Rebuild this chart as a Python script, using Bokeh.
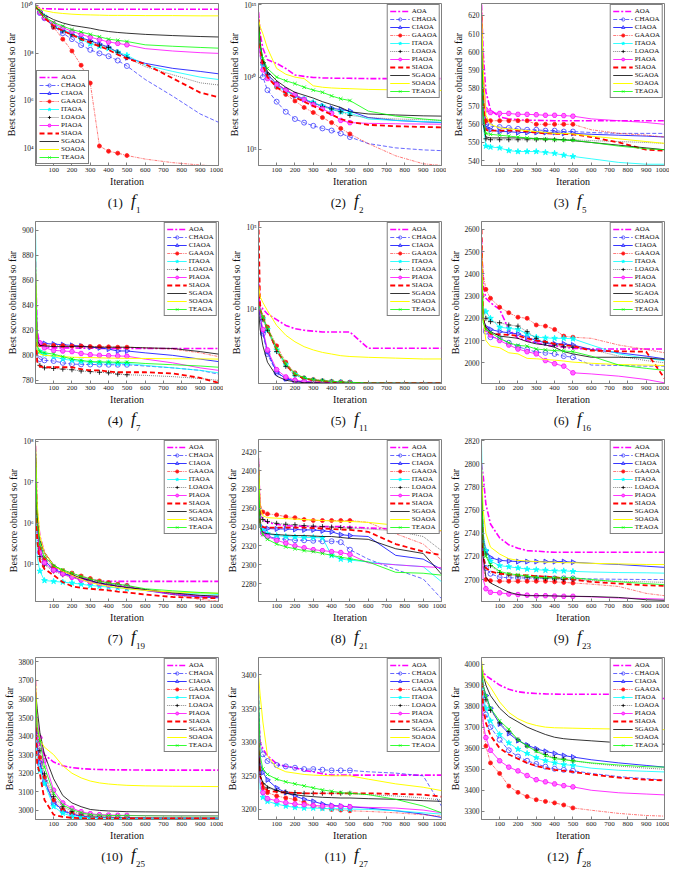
import numpy as np
from bokeh.plotting import figure
from bokeh.layouts import gridplot
from bokeh.models import Range1d, FixedTicker, Legend, LegendItem, Label
from bokeh.embed import file_html
from bokeh.resources import INLINE

ITER = [1, 10, 25, 50, 100, 150, 200, 250, 300, 350, 400, 450, 500, 600, 750, 900, 1000]
ALGOS = ["AOA", "CHAOA", "CIAOA", "GAAOA", "ITAOA", "LOAOA", "PIAOA", "SIAOA", "SGAOA", "SOAOA", "TEAOA"]
X_TICKS = [100, 200, 300, 400, 500, 600, 700, 800, 900, 1000]

# ---- f1 (log10 of best score) ----
F1_LOG10 = {
    "AOA":   [10.05, 9.95, 9.9, 9.88, 9.87, 9.86, 9.86, 9.86, 9.86, 9.86, 9.86, 9.86, 9.86, 9.86, 9.86, 9.86, 9.86],
    "CHAOA": [10.0, 9.85, 9.7, 9.48, 9.14, 8.85, 8.6, 8.35, 8.15, 8.0, 7.88, 7.7, 7.47, 6.9, 6.2, 5.45, 5.1],
    "CIAOA": [10.0, 9.88, 9.75, 9.52, 9.12, 8.95, 8.8, 8.66, 8.53, 8.4, 8.26, 8.05, 7.82, 7.58, 7.37, 7.24, 7.14],
    "GAAOA": [10.0, 9.9, 9.75, 9.5, 9.1, 8.6, 8.1, 7.5, 6.75, 4.1, 3.88, 3.8, 3.7, 3.55, 3.4, 3.3, 3.25],
    "ITAOA": [10.0, 9.88, 9.75, 9.55, 9.2, 9.0, 8.85, 8.6, 8.4, 8.3, 8.2, 8.05, 7.92, 7.51, 7.24, 7.0, 6.9],
    "LOAOA": [10.0, 9.88, 9.75, 9.52, 9.15, 8.95, 8.78, 8.62, 8.5, 8.35, 8.25, 8.05, 7.82, 7.44, 7.1, 6.76, 6.67],
    "PIAOA": [10.0, 9.88, 9.72, 9.5, 9.25, 9.08, 8.93, 8.8, 8.68, 8.58, 8.48, 8.42, 8.36, 8.2, 8.1, 8.03, 8.0],
    "SIAOA": [10.0, 9.88, 9.75, 9.5, 9.15, 8.95, 8.78, 8.6, 8.45, 8.3, 8.15, 7.95, 7.78, 7.55, 6.95, 6.35, 6.15],
    "SGAOA": [10.0, 9.9, 9.78, 9.62, 9.42, 9.28, 9.18, 9.12, 9.06, 8.98, 8.92, 8.88, 8.85, 8.8, 8.75, 8.71, 8.69],
    "SOAOA": [10.05, 9.95, 9.88, 9.8, 9.72, 9.68, 9.65, 9.63, 9.62, 9.61, 9.6, 9.6, 9.6, 9.59, 9.59, 9.58, 9.58],
    "TEAOA": [10.0, 9.9, 9.75, 9.55, 9.3, 9.15, 9.0, 8.9, 8.8, 8.7, 8.6, 8.55, 8.5, 8.36, 8.3, 8.25, 8.22],
}
# ---- f2 (log10) ----
F2_LOG10 = {
    "AOA":   [14.5, 13.0, 12.0, 11.2, 10.95, 10.6, 10.15, 10.05, 9.98, 9.95, 9.93, 9.92, 9.92, 9.9, 9.9, 9.9, 9.9],
    "CHAOA": [14.0, 11.5, 10.0, 9.1, 8.3, 7.6, 7.1, 6.85, 6.63, 6.45, 6.3, 6.1, 5.85, 5.4, 5.1, 4.96, 4.91],
    "CIAOA": [14.0, 12.3, 11.0, 10.2, 9.5, 9.1, 8.7, 8.45, 8.2, 8.0, 7.85, 7.75, 7.65, 7.2, 7.0, 6.9, 6.85],
    "GAAOA": [14.5, 12.5, 11.0, 10.0, 9.3, 8.8, 8.35, 7.9, 7.55, 7.2, 6.85, 6.45, 6.07, 5.4, 4.55, 4.0, 3.88],
    "ITAOA": [14.0, 12.0, 10.8, 10.0, 9.4, 9.0, 8.75, 8.5, 8.25, 8.0, 7.75, 7.6, 7.5, 7.1, 7.0, 6.92, 6.88],
    "LOAOA": [14.0, 12.2, 11.0, 10.2, 9.6, 9.1, 8.75, 8.45, 8.2, 7.95, 7.8, 7.6, 7.35, 7.2, 7.1, 7.05, 7.0],
    "PIAOA": [13.5, 11.5, 10.5, 9.9, 9.5, 9.1, 8.8, 8.45, 8.1, 7.8, 7.5, 7.0, 6.85, 6.8, 6.77, 6.75, 6.74],
    "SIAOA": [14.0, 12.0, 10.8, 10.0, 9.3, 8.9, 8.6, 8.3, 8.0, 7.7, 7.4, 7.1, 6.9, 6.7, 6.6, 6.55, 6.52],
    "SGAOA": [14.0, 12.3, 11.2, 10.4, 9.75, 9.3, 8.95, 8.75, 8.55, 8.3, 8.1, 7.9, 7.6, 7.45, 7.38, 7.32, 7.3],
    "SOAOA": [14.0, 13.5, 13.0, 12.0, 10.6, 10.2, 10.0, 9.9, 9.4, 9.3, 9.25, 9.22, 9.2, 9.15, 9.12, 9.1, 9.08],
    "TEAOA": [13.8, 12.2, 11.3, 10.6, 10.0, 9.75, 9.55, 9.3, 9.1, 8.95, 8.7, 8.5, 8.38, 7.65, 7.3, 7.1, 7.0],
}
# ---- f5 ----
F5 = {
    "AOA":   [626, 600, 578, 568, 564, 563, 562.5, 562.3, 562.2, 562.1, 562, 562, 562, 562, 562, 562, 562],
    "CHAOA": [620, 575, 560, 559, 558.5, 558, 557.5, 557, 557, 556.5, 556.5, 556, 556, 555.5, 555, 555, 555],
    "CIAOA": [620, 575, 558, 557, 556, 556, 555.5, 555.5, 555.5, 555.5, 555.5, 555, 555, 554.5, 554, 553.5, 553],
    "GAAOA": [620, 580, 562, 562, 562, 562, 562, 562, 560, 560, 560, 560, 560, 557, 555, 554, 553],
    "ITAOA": [615, 560, 548, 547.5, 547, 545.5, 545, 545, 545, 544.5, 544, 543, 542.3, 541, 539, 538, 538],
    "LOAOA": [620, 570, 552, 551.5, 551.5, 551.5, 551.5, 551.5, 551.5, 551.5, 551.5, 551.5, 551.5, 551, 550.5, 550, 549.5],
    "PIAOA": [626, 590, 568, 566.5, 566, 566, 565.5, 565.5, 565.3, 565, 565, 564.8, 564.5, 563, 562, 561, 560],
    "SIAOA": [620, 575, 557, 556.5, 556.5, 556.5, 556.5, 556, 555.5, 555, 554.8, 554.7, 554.5, 553, 550, 546, 545.5],
    "SGAOA": [610, 560, 553, 552.5, 552.5, 552.5, 552.5, 552.3, 552.2, 552, 551.8, 551.5, 551, 550, 548.5, 547, 546],
    "SOAOA": [625, 590, 565, 560, 558, 557.5, 557, 556.5, 556, 555.5, 555, 555, 554.7, 553.5, 552, 550.5, 549.5],
    "TEAOA": [610, 565, 555, 554.5, 554, 553.5, 553, 552.5, 552, 551.8, 551.5, 551.3, 551.2, 550, 548, 546.5, 546],
}
# ---- f7 ----
F7 = {
    "AOA":   [875, 820, 808, 806.5, 806, 806, 806, 805.8, 805.7, 805.6, 805.5, 805.5, 805.5, 805.5, 805.5, 805.5, 805.5],
    "CHAOA": [850, 800, 797, 796, 795.5, 794, 793, 792.8, 792.7, 792.6, 792.5, 792.5, 792.5, 791.5, 790, 788, 785],
    "CIAOA": [860, 815, 810, 809.5, 809, 808.5, 808, 807.5, 806.5, 806, 805, 803.5, 803.5, 802, 800, 797, 795],
    "GAAOA": [860, 815, 808.5, 808, 808, 807.8, 807.5, 807.5, 807, 807, 806.8, 806.5, 806.5, 806, 805, 802, 799],
    "ITAOA": [905, 806, 803, 801, 799, 797, 796, 795, 794.5, 794, 794, 793.5, 793.5, 792, 790, 788, 786],
    "LOAOA": [820, 795, 792, 790, 789.5, 789, 788.5, 787.5, 787, 786.5, 786, 785, 784.5, 784, 783, 781.5, 780],
    "PIAOA": [870, 815, 810, 806, 804, 803.5, 803, 801.5, 800.5, 800, 799.8, 799.5, 799.3, 797, 794, 790, 788],
    "SIAOA": [830, 795, 791, 790.5, 790.5, 790.5, 790.5, 789, 788, 788, 787, 786.5, 786.5, 786.5, 785.5, 782, 778],
    "SGAOA": [850, 812, 808, 807.5, 807, 807, 807, 807, 806.8, 806.5, 806.5, 806.5, 806.5, 806, 805.5, 803, 801],
    "SOAOA": [880, 805, 801, 800, 799.5, 799, 798.5, 798.3, 798.2, 798, 797.8, 797.7, 797.6, 797.5, 797.3, 797.2, 797],
    "TEAOA": [870, 808, 803, 802, 801, 799, 797, 796, 795, 794.8, 794.6, 794.5, 794.5, 793.5, 792.5, 791.5, 790.5],
}
# ---- f11 (log10) ----
F11_LOG10 = {
    "AOA":   [4.4, 4.05, 4.0, 3.94, 3.87, 3.8, 3.76, 3.74, 3.73, 3.72, 3.72, 3.72, 3.72, 3.52, 3.52, 3.52, 3.52],
    "CHAOA": [4.05, 3.88, 3.7, 3.45, 3.22, 3.15, 3.12, 3.11, 3.105, 3.1, 3.1, 3.098, 3.096, 3.094, 3.093, 3.093, 3.093],
    "CIAOA": [4.3, 3.9, 3.72, 3.48, 3.23, 3.15, 3.12, 3.11, 3.105, 3.1, 3.1, 3.098, 3.096, 3.094, 3.093, 3.093, 3.093],
    "GAAOA": [4.1, 4.0, 3.9, 3.78, 3.55, 3.35, 3.22, 3.16, 3.14, 3.125, 3.115, 3.11, 3.105, 3.096, 3.094, 3.093, 3.093],
    "ITAOA": [4.05, 3.98, 3.88, 3.75, 3.5, 3.32, 3.2, 3.15, 3.13, 3.12, 3.11, 3.105, 3.1, 3.095, 3.094, 3.093, 3.093],
    "LOAOA": [4.0, 3.97, 3.87, 3.74, 3.48, 3.3, 3.19, 3.15, 3.13, 3.12, 3.11, 3.105, 3.1, 3.095, 3.094, 3.093, 3.093],
    "PIAOA": [4.4, 3.92, 3.75, 3.5, 3.26, 3.17, 3.13, 3.115, 3.108, 3.102, 3.1, 3.098, 3.096, 3.094, 3.093, 3.093, 3.093],
    "SIAOA": [5.07, 4.0, 3.9, 3.76, 3.5, 3.32, 3.2, 3.15, 3.13, 3.12, 3.11, 3.105, 3.1, 3.095, 3.094, 3.093, 3.093],
    "SGAOA": [4.0, 3.75, 3.55, 3.35, 3.18, 3.13, 3.11, 3.1, 3.1, 3.097, 3.095, 3.094, 3.094, 3.093, 3.093, 3.093, 3.093],
    "SOAOA": [4.3, 4.15, 4.08, 3.98, 3.8, 3.68, 3.6, 3.54, 3.5, 3.47, 3.45, 3.43, 3.42, 3.41, 3.4, 3.39, 3.39],
    "TEAOA": [4.05, 4.0, 3.9, 3.77, 3.52, 3.33, 3.21, 3.16, 3.135, 3.125, 3.115, 3.11, 3.105, 3.095, 3.094, 3.093, 3.093],
}
# ---- f16 ----
F16 = {
    "AOA":   [2560, 2350, 2290, 2270, 2240, 2150, 2110, 2100, 2090, 2080, 2075, 2070, 2065, 2062, 2062, 2062, 2062],
    "CHAOA": [2450, 2200, 2140, 2115, 2110, 2090, 2072, 2060, 2048, 2045, 2040, 2030, 2025, 1990, 1988, 1985, 1985],
    "CIAOA": [2400, 2200, 2160, 2150, 2140, 2135, 2130, 2115, 2100, 2090, 2085, 2085, 2080, 2060, 2045, 2030, 2018],
    "GAAOA": [2520, 2400, 2330, 2290, 2250, 2225, 2205, 2200, 2170, 2165, 2150, 2120, 2115, 2110, 2080, 2060, 2045],
    "ITAOA": [2500, 2250, 2230, 2200, 2160, 2155, 2150, 2130, 2115, 2112, 2110, 2110, 2108, 2080, 2040, 2020, 2010],
    "LOAOA": [2450, 2250, 2200, 2185, 2180, 2170, 2165, 2140, 2110, 2090, 2080, 2072, 2070, 2060, 2030, 2010, 2000],
    "PIAOA": [2500, 2200, 2150, 2125, 2100, 2080, 2062, 2050, 2040, 2010, 1996, 1985, 1955, 1950, 1940, 1925, 1910],
    "SIAOA": [2600, 2200, 2150, 2130, 2128, 2125, 2122, 2110, 2100, 2095, 2085, 2080, 2075, 2055, 2052, 2050, 1930],
    "SGAOA": [2400, 2200, 2160, 2140, 2120, 2115, 2110, 2095, 2085, 2080, 2070, 2050, 2040, 2025, 2025, 2022, 2015],
    "SOAOA": [2550, 2200, 2100, 2075, 2068, 2045, 2040, 2020, 2018, 2015, 2012, 2008, 2003, 1998, 1992, 1990, 1988],
    "TEAOA": [2420, 2180, 2150, 2136, 2110, 2090, 2078, 2075, 2062, 2058, 2055, 2053, 2050, 2030, 1990, 1975, 1966],
}
# ---- f19 (log10) ----
F19_LOG10 = {
    "AOA":   [7.9, 6.3, 5.7, 5.3, 4.95, 4.82, 4.74, 4.68, 4.64, 4.61, 4.6, 4.6, 4.6, 4.6, 4.6, 4.6, 4.6],
    "CHAOA": [7.5, 5.8, 5.3, 5.05, 4.88, 4.8, 4.73, 4.66, 4.6, 4.56, 4.53, 4.5, 4.48, 4.4, 4.3, 4.24, 4.22],
    "CIAOA": [7.6, 5.9, 5.35, 5.1, 4.9, 4.8, 4.72, 4.65, 4.6, 4.55, 4.52, 4.49, 4.46, 4.38, 4.28, 4.22, 4.2],
    "GAAOA": [7.7, 6.0, 5.4, 5.15, 4.95, 4.86, 4.8, 4.73, 4.67, 4.61, 4.57, 4.53, 4.5, 4.4, 4.28, 4.16, 4.12],
    "ITAOA": [7.0, 5.2, 4.85, 4.62, 4.6, 4.58, 4.56, 4.53, 4.5, 4.48, 4.46, 4.44, 4.42, 4.38, 4.33, 4.3, 4.28],
    "LOAOA": [7.6, 5.7, 5.2, 5.0, 4.85, 4.76, 4.7, 4.64, 4.59, 4.55, 4.52, 4.49, 4.47, 4.4, 4.3, 4.25, 4.23],
    "PIAOA": [7.6, 5.8, 5.3, 5.05, 4.87, 4.78, 4.7, 4.63, 4.58, 4.54, 4.51, 4.49, 4.47, 4.38, 4.3, 4.24, 4.22],
    "SIAOA": [7.5, 5.6, 5.1, 4.9, 4.75, 4.58, 4.48, 4.44, 4.42, 4.4, 4.38, 4.35, 4.33, 4.28, 4.22, 4.2, 4.19],
    "SGAOA": [7.9, 6.2, 5.6, 5.3, 5.0, 4.85, 4.76, 4.68, 4.62, 4.56, 4.52, 4.48, 4.45, 4.4, 4.32, 4.26, 4.24],
    "SOAOA": [8.0, 6.5, 5.7, 5.3, 4.98, 4.85, 4.75, 4.65, 4.57, 4.52, 4.48, 4.45, 4.42, 4.38, 4.34, 4.32, 4.31],
    "TEAOA": [7.8, 6.0, 5.5, 5.2, 4.98, 4.88, 4.8, 4.72, 4.66, 4.6, 4.56, 4.53, 4.5, 4.42, 4.37, 4.33, 4.31],
}
# ---- f21 ----
F21 = {
    "AOA":   [2410, 2355, 2348, 2345, 2343, 2341.5, 2341, 2341, 2340.5, 2340.5, 2340.5, 2340.5, 2340, 2339, 2338, 2337, 2336],
    "CHAOA": [2420, 2342, 2335, 2330, 2328, 2327, 2326, 2326, 2325.5, 2325, 2325, 2324, 2316, 2306, 2295, 2285, 2264],
    "CIAOA": [2400, 2345, 2339, 2338.5, 2338, 2338, 2337.5, 2337, 2337, 2336, 2335, 2332, 2331, 2330, 2310, 2306, 2295],
    "GAAOA": [2420, 2365, 2356, 2354, 2353, 2351, 2350, 2348, 2347, 2347, 2347, 2347, 2347, 2345, 2333, 2322, 2305],
    "ITAOA": [2410, 2345, 2336, 2333, 2331, 2330, 2329.5, 2329, 2329, 2328.5, 2310, 2306, 2305, 2303, 2300, 2298, 2282],
    "LOAOA": [2400, 2355, 2348, 2346, 2344, 2343, 2342.5, 2341.5, 2341, 2340.5, 2340, 2339.5, 2339, 2338, 2336, 2330, 2315],
    "PIAOA": [2400, 2340, 2333, 2330, 2326, 2323, 2320, 2318, 2316, 2315, 2314, 2313, 2311, 2302, 2300, 2298, 2297],
    "SIAOA": [2400, 2345, 2340, 2339.5, 2339.5, 2339.5, 2339.5, 2339.5, 2339, 2338.5, 2338, 2337.5, 2337, 2335, 2322, 2314, 2310],
    "SGAOA": [2400, 2340, 2334, 2333, 2332, 2331.5, 2331, 2331, 2330.5, 2330, 2330, 2329, 2328, 2327, 2317, 2312, 2290],
    "SOAOA": [2410, 2360, 2352, 2350, 2349.5, 2349, 2348.5, 2348, 2347.5, 2347, 2346.5, 2346.2, 2346, 2345, 2342, 2340, 2336],
    "TEAOA": [2400, 2340, 2332, 2327, 2322, 2319, 2317, 2315, 2314, 2312, 2310, 2308, 2306.5, 2303, 2292, 2291, 2289],
}
# ---- f23 ----
F23 = {
    "AOA":   [2800, 2790, 2765, 2748, 2736, 2730, 2727, 2725, 2724.5, 2724, 2723.5, 2723.5, 2723.5, 2723.5, 2723.5, 2723.5, 2723.5],
    "CHAOA": [2790, 2725, 2710, 2705, 2702, 2701.5, 2701.4, 2701.3, 2701.2, 2701.1, 2701, 2701, 2701, 2700.5, 2700.2, 2700, 2700],
    "CIAOA": [2790, 2735, 2725, 2719, 2716.5, 2716, 2715.5, 2715.5, 2715.5, 2715.5, 2715.5, 2715.5, 2715, 2714, 2713, 2711.5, 2710.5],
    "GAAOA": [2795, 2710, 2700, 2699, 2698.6, 2698.5, 2698.5, 2698.5, 2698.5, 2698.5, 2698, 2697.5, 2697, 2696, 2694, 2688, 2686],
    "ITAOA": [2820, 2740, 2725, 2716, 2712, 2711, 2710, 2709, 2708.5, 2708, 2707.5, 2707.5, 2707, 2706.5, 2706, 2705.8, 2705.5],
    "LOAOA": [2790, 2740, 2722, 2712, 2706, 2704, 2703, 2702, 2701.5, 2701, 2700.5, 2700, 2700, 2699, 2698.5, 2698, 2697.5],
    "PIAOA": [2780, 2700, 2692, 2689, 2688.5, 2687.5, 2687, 2686.5, 2686, 2686, 2685.7, 2685.5, 2685.5, 2685, 2684, 2683.5, 2683],
    "SIAOA": [2780, 2720, 2710, 2707, 2705, 2704.5, 2704, 2703.5, 2703, 2702.5, 2702, 2701, 2700, 2698, 2696.5, 2695, 2694.5],
    "SGAOA": [2790, 2720, 2702, 2697, 2693, 2689, 2687, 2686, 2686, 2686, 2685.8, 2685.6, 2685.5, 2685.3, 2684.5, 2682.5, 2682],
    "SOAOA": [2800, 2760, 2740, 2728, 2722, 2718, 2716.5, 2716, 2715.5, 2715, 2715, 2714.5, 2714.5, 2714, 2713.5, 2713, 2713],
    "TEAOA": [2790, 2730, 2720, 2713, 2707, 2705, 2704, 2703, 2702, 2701.5, 2701.5, 2701.5, 2701.5, 2700, 2698, 2696.5, 2695.5],
}
# ---- f25 ----
F25 = {
    "AOA":   [3700, 3420, 3350, 3300, 3260, 3240, 3230, 3225, 3222, 3220, 3219, 3218, 3218, 3217, 3217, 3217, 3217],
    "CHAOA": [3500, 3350, 3250, 3150, 3039, 2995, 2977, 2968, 2964, 2962, 2961, 2960, 2960, 2959, 2958, 2958, 2958],
    "CIAOA": [3520, 3360, 3260, 3160, 3045, 3000, 2980, 2970, 2965, 2963, 2962, 2961, 2960, 2959, 2958, 2958, 2958],
    "GAAOA": [3550, 3380, 3285, 3180, 3056, 3005, 2986, 2975, 2968, 2965, 2963, 2962, 2961, 2960, 2959, 2959, 2959],
    "ITAOA": [3400, 3280, 3215, 3144, 3021, 2985, 2968, 2962, 2960, 2959, 2958, 2958, 2958, 2958, 2958, 2958, 2958],
    "LOAOA": [3600, 3420, 3321, 3197, 3074, 3020, 2995, 2982, 2972, 2967, 2965, 2963, 2962, 2961, 2960, 2960, 2960],
    "PIAOA": [3650, 3480, 3391, 3268, 3109, 3040, 3012, 2993, 2982, 2977, 2975, 2974, 2973, 2972, 2971, 2971, 2971],
    "SIAOA": [3450, 3250, 3197, 3056, 2977, 2965, 2960, 2958, 2957, 2957, 2957, 2957, 2957, 2957, 2957, 2957, 2957],
    "SGAOA": [3650, 3550, 3420, 3300, 3170, 3080, 3040, 3020, 3005, 3000, 2997, 2995, 2993, 2992, 2991, 2990, 2990],
    "SOAOA": [3720, 3450, 3380, 3340, 3300, 3240, 3200, 3175, 3158, 3148, 3142, 3138, 3135, 3132, 3130, 3129, 3128],
    "TEAOA": [3620, 3450, 3374, 3233, 3092, 3030, 3004, 2988, 2977, 2974, 2973, 2972, 2972, 2971, 2970, 2970, 2970],
}
# ---- f27 ----
F27 = {
    "AOA":   [3340, 3300, 3290, 3280, 3268, 3264, 3262, 3258, 3256, 3253, 3251, 3251, 3251, 3251, 3251, 3251, 3251],
    "CHAOA": [3380, 3300, 3282, 3272, 3266, 3264, 3262, 3260, 3260, 3259, 3258, 3258, 3258, 3256, 3254, 3250, 3205],
    "CIAOA": [3350, 3270, 3255, 3244, 3232, 3225, 3220, 3215, 3212, 3208, 3206, 3205, 3204, 3202, 3198, 3193, 3188],
    "GAAOA": [3340, 3250, 3232, 3225, 3220, 3217, 3215, 3210, 3205, 3202, 3200, 3199, 3198, 3197, 3195, 3192, 3190],
    "ITAOA": [3320, 3230, 3218, 3212, 3208, 3205, 3203, 3202, 3202, 3201.5, 3201, 3201, 3200.5, 3200, 3198, 3195, 3193],
    "LOAOA": [3320, 3250, 3238, 3232, 3228, 3226, 3225, 3224, 3224, 3224, 3224, 3224, 3224, 3222, 3220, 3217, 3214],
    "PIAOA": [3330, 3240, 3225, 3216, 3213, 3210, 3208, 3207, 3206, 3205, 3205, 3204.5, 3204, 3203, 3202, 3199, 3195],
    "SIAOA": [3300, 3250, 3235, 3228, 3226, 3225, 3224.5, 3224, 3224, 3224, 3224, 3224, 3224, 3224, 3223, 3222, 3219],
    "SGAOA": [3300, 3250, 3240, 3234, 3228, 3224, 3222, 3220, 3219, 3218, 3217.5, 3217, 3217, 3216, 3215, 3213, 3212],
    "SOAOA": [3400, 3370, 3330, 3280, 3262, 3256, 3254, 3252, 3251, 3250.5, 3250, 3250, 3250, 3245, 3238, 3233, 3228],
    "TEAOA": [3380, 3280, 3260, 3252, 3245, 3241, 3238, 3235, 3232, 3229, 3227, 3225, 3224, 3222, 3215, 3205, 3195],
}
# ---- f28 ----
F28 = {
    "AOA":   [3990, 3960, 3945, 3930, 3900, 3880, 3868, 3863, 3860, 3858, 3857, 3856, 3856, 3856, 3856, 3855, 3835],
    "CHAOA": [3960, 3830, 3760, 3700, 3640, 3590, 3560, 3540, 3525, 3512, 3502, 3497, 3493, 3480, 3465, 3455, 3448],
    "CIAOA": [3980, 3900, 3850, 3790, 3715, 3670, 3636, 3615, 3597, 3585, 3575, 3565, 3558, 3545, 3530, 3518, 3510],
    "GAAOA": [3880, 3700, 3610, 3530, 3480, 3420, 3390, 3370, 3355, 3347, 3340, 3330, 3316, 3305, 3290, 3280, 3277],
    "ITAOA": [3950, 3850, 3790, 3730, 3665, 3625, 3595, 3575, 3555, 3540, 3530, 3522, 3518, 3505, 3495, 3490, 3487],
    "LOAOA": [3990, 3880, 3830, 3780, 3720, 3680, 3640, 3610, 3590, 3570, 3555, 3548, 3540, 3528, 3515, 3505, 3500],
    "PIAOA": [3900, 3720, 3650, 3590, 3540, 3510, 3492, 3470, 3450, 3440, 3430, 3422, 3416, 3400, 3388, 3382, 3378],
    "SIAOA": [3950, 3800, 3720, 3660, 3600, 3570, 3550, 3530, 3515, 3505, 3497, 3492, 3487, 3475, 3460, 3450, 3447],
    "SGAOA": [4000, 3950, 3900, 3850, 3790, 3750, 3725, 3700, 3682, 3665, 3652, 3645, 3641, 3635, 3626, 3620, 3619],
    "SOAOA": [4020, 3950, 3920, 3890, 3820, 3770, 3740, 3720, 3708, 3700, 3697, 3696, 3695, 3693, 3691, 3690, 3688],
    "TEAOA": [4000, 3900, 3850, 3790, 3730, 3690, 3640, 3610, 3585, 3565, 3550, 3545, 3540, 3530, 3520, 3512, 3510],
}

# panel: data, index label, function subscript, log?, y-range, y ticks, legend location
PANELS = [
    (F1_LOG10, "(1)", "1", True, (3.28, 10.1), [4, 6, 8, 10], "bottom_left"),
    (F2_LOG10, "(2)", "2", True, (3.88, 15.1), [5, 10, 15], "top_right"),
    (F5, "(3)", "5", False, (537.3, 626.6), [540, 550, 560, 570, 580, 590, 600, 610, 620], "top_right"),
    (F7, "(4)", "7", False, (777.5, 907), [780, 800, 820, 840, 860, 880, 900], "top_right"),
    (F11_LOG10, "(5)", "11", True, (3.09, 5.07), [4, 5], "top_right"),
    (F16, "(6)", "16", False, (1907, 2635), [2000, 2100, 2200, 2300, 2400, 2500, 2600], "top_right"),
    (F19_LOG10, "(7)", "19", True, (4.11, 8.05), [5, 6, 7, 8], "top_right"),
    (F21, "(8)", "21", False, (2261, 2433), [2280, 2300, 2320, 2340, 2360, 2380, 2400, 2420], "top_right"),
    (F23, "(9)", "23", False, (2681, 2821), [2700, 2720, 2740, 2760, 2780, 2800, 2820], "top_right"),
    (F25, "(10)", "25", False, (2951, 3823), [3000, 3100, 3200, 3300, 3400, 3500, 3600, 3700, 3800], "top_right"),
    (F27, "(11)", "27", False, (3185, 3426), [3200, 3250, 3300, 3350, 3400], "top_right"),
    (F28, "(12)", "28", False, (3261, 4031), [3300, 3400, 3500, 3600, 3700, 3800, 3900, 4000], "top_right"),
]

STYLE = {
    "AOA":   dict(color="#FF00FF", dash="6 2 2 2", width=1.6, marker=None),
    "CHAOA": dict(color="#3F3FFF", dash="4 2", width=0.8, marker="circle", fill=None, size=5),
    "CIAOA": dict(color="#1F1FFF", dash="solid", width=0.9, marker="triangle", fill="#9F9FFF", size=5, angle=-np.pi / 2),
    "GAAOA": dict(color="#FF2020", dash="3 1 1 1", width=0.6, marker="circle", fill="#FF0000", size=4),
    "ITAOA": dict(color="#00FFFF", dash="solid", width=0.8, marker="star", fill="#00FFFF", size=6),
    "LOAOA": dict(color="#666666", dash="1 1", width=0.8, marker="cross", fill=None, size=5, mcolor="#000000"),
    "PIAOA": dict(color="#FF00FF", dash="solid", width=0.8, marker="hex", fill="#FF66FF", size=5),
    "SIAOA": dict(color="#FF0000", dash="5 3", width=1.8, marker=None),
    "SGAOA": dict(color="#000000", dash="solid", width=0.8, marker=None),
    "SOAOA": dict(color="#FFFF00", dash="solid", width=1.0, marker=None),
    "TEAOA": dict(color="#00FF00", dash="solid", width=0.8, marker="x", fill=None, size=5),
}

SUP = str.maketrans("0123456789-", "⁰¹²³⁴⁵⁶⁷⁸⁹⁻")
FONT = "Liberation Serif"
FW, FH, CH = 223, 190, 28
BL, BR, BT, BB = 31, 5, 3, 25

it = np.array(ITER, dtype=float)
mk = (it >= 25) & (it <= 500)


def make_caption(idx, sub):
    c = figure(width=FW, height=CH, output_backend="svg", toolbar_location=None,
               x_range=Range1d(0, FW), y_range=Range1d(0, CH),
               x_axis_location=None, y_axis_location=None,
               min_border_left=0, min_border_right=0, min_border_top=0, min_border_bottom=0)
    c.xgrid.visible = False
    c.ygrid.visible = False
    c.outline_line_color = None
    cx = FW / 2 - 2
    c.add_layout(Label(x=cx - 3, y=9, text=idx, text_font=FONT, text_font_size="13px",
                       text_align="right", text_color="#111111"))
    c.add_layout(Label(x=cx + 7, y=9, text="f", text_font=FONT, text_font_size="17px",
                       text_font_style="italic", text_color="#111111"))
    c.add_layout(Label(x=cx + 13, y=6, text=sub, text_font=FONT, text_font_size="9px",
                       text_color="#111111"))
    return c


figs = []
caps = []
for data, idx, sub, is_log, yr, yt, loc in PANELS:
    if is_log:
        y_range = Range1d(10 ** yr[0], 10 ** yr[1])
    else:
        y_range = Range1d(*yr)
    p = figure(width=FW, height=FH, output_backend="svg", toolbar_location=None,
               x_range=Range1d(1, 1000), y_range=y_range,
               y_axis_type="log" if is_log else "linear",
               min_border_left=BL, min_border_right=BR, min_border_top=BT, min_border_bottom=BB)
    p.xgrid.visible = False
    p.ygrid.visible = False
    p.outline_line_color = "#808080"
    for ax in (p.xaxis[0], p.yaxis[0]):
        ax.major_label_text_font = FONT
        ax.major_label_text_font_size = "7.5px"
        ax.major_label_text_color = "#222222"
        ax.axis_label_text_font = FONT
        ax.axis_label_text_font_size = "10px"
        ax.axis_label_text_font_style = "normal"
        ax.axis_label_text_color = "#111111"
        ax.major_tick_in = 3
        ax.major_tick_out = 0
        ax.minor_tick_in = 0
        ax.minor_tick_out = 0
        ax.axis_line_color = "#808080"
        ax.major_tick_line_color = "#808080"
        ax.major_label_standoff = 2
        ax.axis_label_standoff = 1
    p.xaxis.major_label_text_font_size = "7px"
    p.xaxis.ticker = FixedTicker(ticks=X_TICKS)
    p.xaxis.axis_label = "Iteration"
    p.yaxis.axis_label = "Best score obtained so far"
    if is_log:
        ticks = [10.0 ** e for e in yt]
        p.yaxis.ticker = FixedTicker(ticks=ticks, minor_ticks=[])
        p.yaxis.major_label_overrides = {t: "10" + str(e).translate(SUP) for t, e in zip(ticks, yt)}
    else:
        p.yaxis.ticker = FixedTicker(ticks=yt, minor_ticks=[])

    items = []
    for name in ALGOS:
        st = STYLE[name]
        vals = np.array(data[name], dtype=float)
        yv = 10 ** vals if is_log else vals
        rends = [p.line(it, yv, line_color=st["color"], line_width=st["width"], line_dash=st["dash"])]
        if st["marker"]:
            mcol = st.get("mcolor", st["color"])
            kw = dict(marker=st["marker"], size=st["size"], line_color=mcol, line_width=0.8)
            if st["fill"]:
                kw.update(fill_color=st["fill"], fill_alpha=0.9)
            else:
                kw.update(fill_color=None)
            if "angle" in st:
                kw["angle"] = st["angle"]
            rends.append(p.scatter(it[mk], yv[mk], **kw))
        items.append(LegendItem(label=name, renderers=rends))
    leg = Legend(items=items, location=loc, label_text_font=FONT, label_text_font_size="7px",
                 label_height=8, glyph_height=8, glyph_width=20, spacing=0, padding=2, margin=1,
                 label_standoff=2, border_line_color="#000000", border_line_width=0.8,
                 background_fill_alpha=1.0, label_text_color="#111111")
    p.add_layout(leg)
    figs.append(p)
    caps.append(make_caption(idx, sub))

rows = []
for r in range(4):
    rows.append(figs[3 * r:3 * r + 3])
    rows.append(caps[3 * r:3 * r + 3])
grid = gridplot(rows, toolbar_location=None)
open("out.html", "w").write(file_html(grid, INLINE))
